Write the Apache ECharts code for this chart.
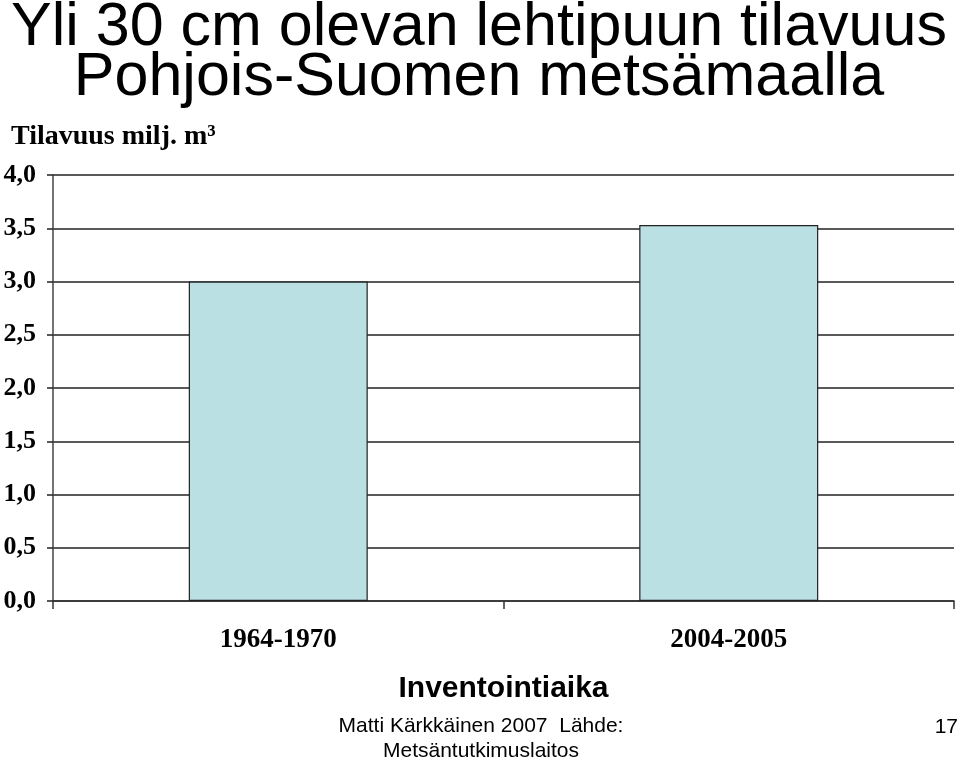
<!DOCTYPE html>
<html><head><meta charset="utf-8">
<script src="https://cdn.jsdelivr.net/npm/echarts@6/dist/echarts.min.js"></script>
<style>html,body{margin:0;padding:0;background:#fff}#c{width:960px;height:760px}</style>
</head><body><div id="c"></div>
<script>
var categories = ['1964-1970', '2004-2005'];
var volumes = [3.0, 3.53];
var yTicks = ['0,0','0,5','1,0','1,5','2,0','2,5','3,0','3,5','4,0'];

var chart = echarts.init(document.getElementById('c'));
chart.setOption({
  backgroundColor: '#fff',
  animation: false,
  title: [{
    text: 'Yli 30 cm olevan lehtipuun tilavuus\nPohjois-Suomen metsämaalla',
    left: 474, top: -2, textAlign: 'center',
    textStyle: {fontFamily: 'Liberation Sans', fontWeight: 'normal', fontSize: 61, lineHeight: 50, color: '#000'}
  }, {
    text: 'Tilavuus milj. m³',
    left: 6, top: 118,
    textStyle: {fontFamily: 'Liberation Serif', fontWeight: 'bold', fontSize: 28, color: '#000'}
  }, {
    text: 'Matti Kärkkäinen 2007  Lähde:\nMetsäntutkimuslaitos',
    left: 476, top: 709, textAlign: 'center',
    textStyle: {fontFamily: 'Liberation Sans', fontWeight: 'normal', fontSize: 21, lineHeight: 25, color: '#000'}
  }, {
    text: '17',
    right: 2, top: 717, padding: 0,
    textStyle: {fontFamily: 'Liberation Sans', fontWeight: 'normal', fontSize: 21, color: '#000'}
  }],
  grid: {left: 53, right: 6, top: 175, bottom: 159, containLabel: false},
  xAxis: {
    type: 'category', data: categories,
    name: 'Inventointiaika', nameLocation: 'middle', nameGap: 73,
    nameTextStyle: {fontFamily: 'Liberation Sans', fontWeight: 'bold', fontSize: 30, color: '#000'},
    axisLine: {lineStyle: {color: '#333', width: 1.5}},
    axisTick: {show: true, length: 8, alignWithLabel: false, lineStyle: {color: '#333', width: 1.5}},
    axisLabel: {margin: 26, fontFamily: 'Liberation Serif', fontWeight: 'bold', fontSize: 27, color: '#000'}
  },
  yAxis: {
    type: 'value', min: 0, max: 4, interval: 0.5,
    axisLine: {show: true, lineStyle: {color: '#444', width: 1.5}},
    axisTick: {show: true, length: 6, lineStyle: {color: '#222', width: 1.5}},
    axisLabel: {margin: 17, fontFamily: 'Liberation Serif', fontWeight: 'bold', fontSize: 26, color: '#000',
      formatter: function (v) { return yTicks[Math.round(v / 0.5)]; }},
    splitLine: {show: true, lineStyle: {color: '#222', width: 1.5}}
  },
  series: [{
    type: 'bar', data: volumes, barWidth: 179,
    itemStyle: {color: '#BBE0E3', borderColor: '#222', borderWidth: 1.2}
  }]
});
</script></body></html>
